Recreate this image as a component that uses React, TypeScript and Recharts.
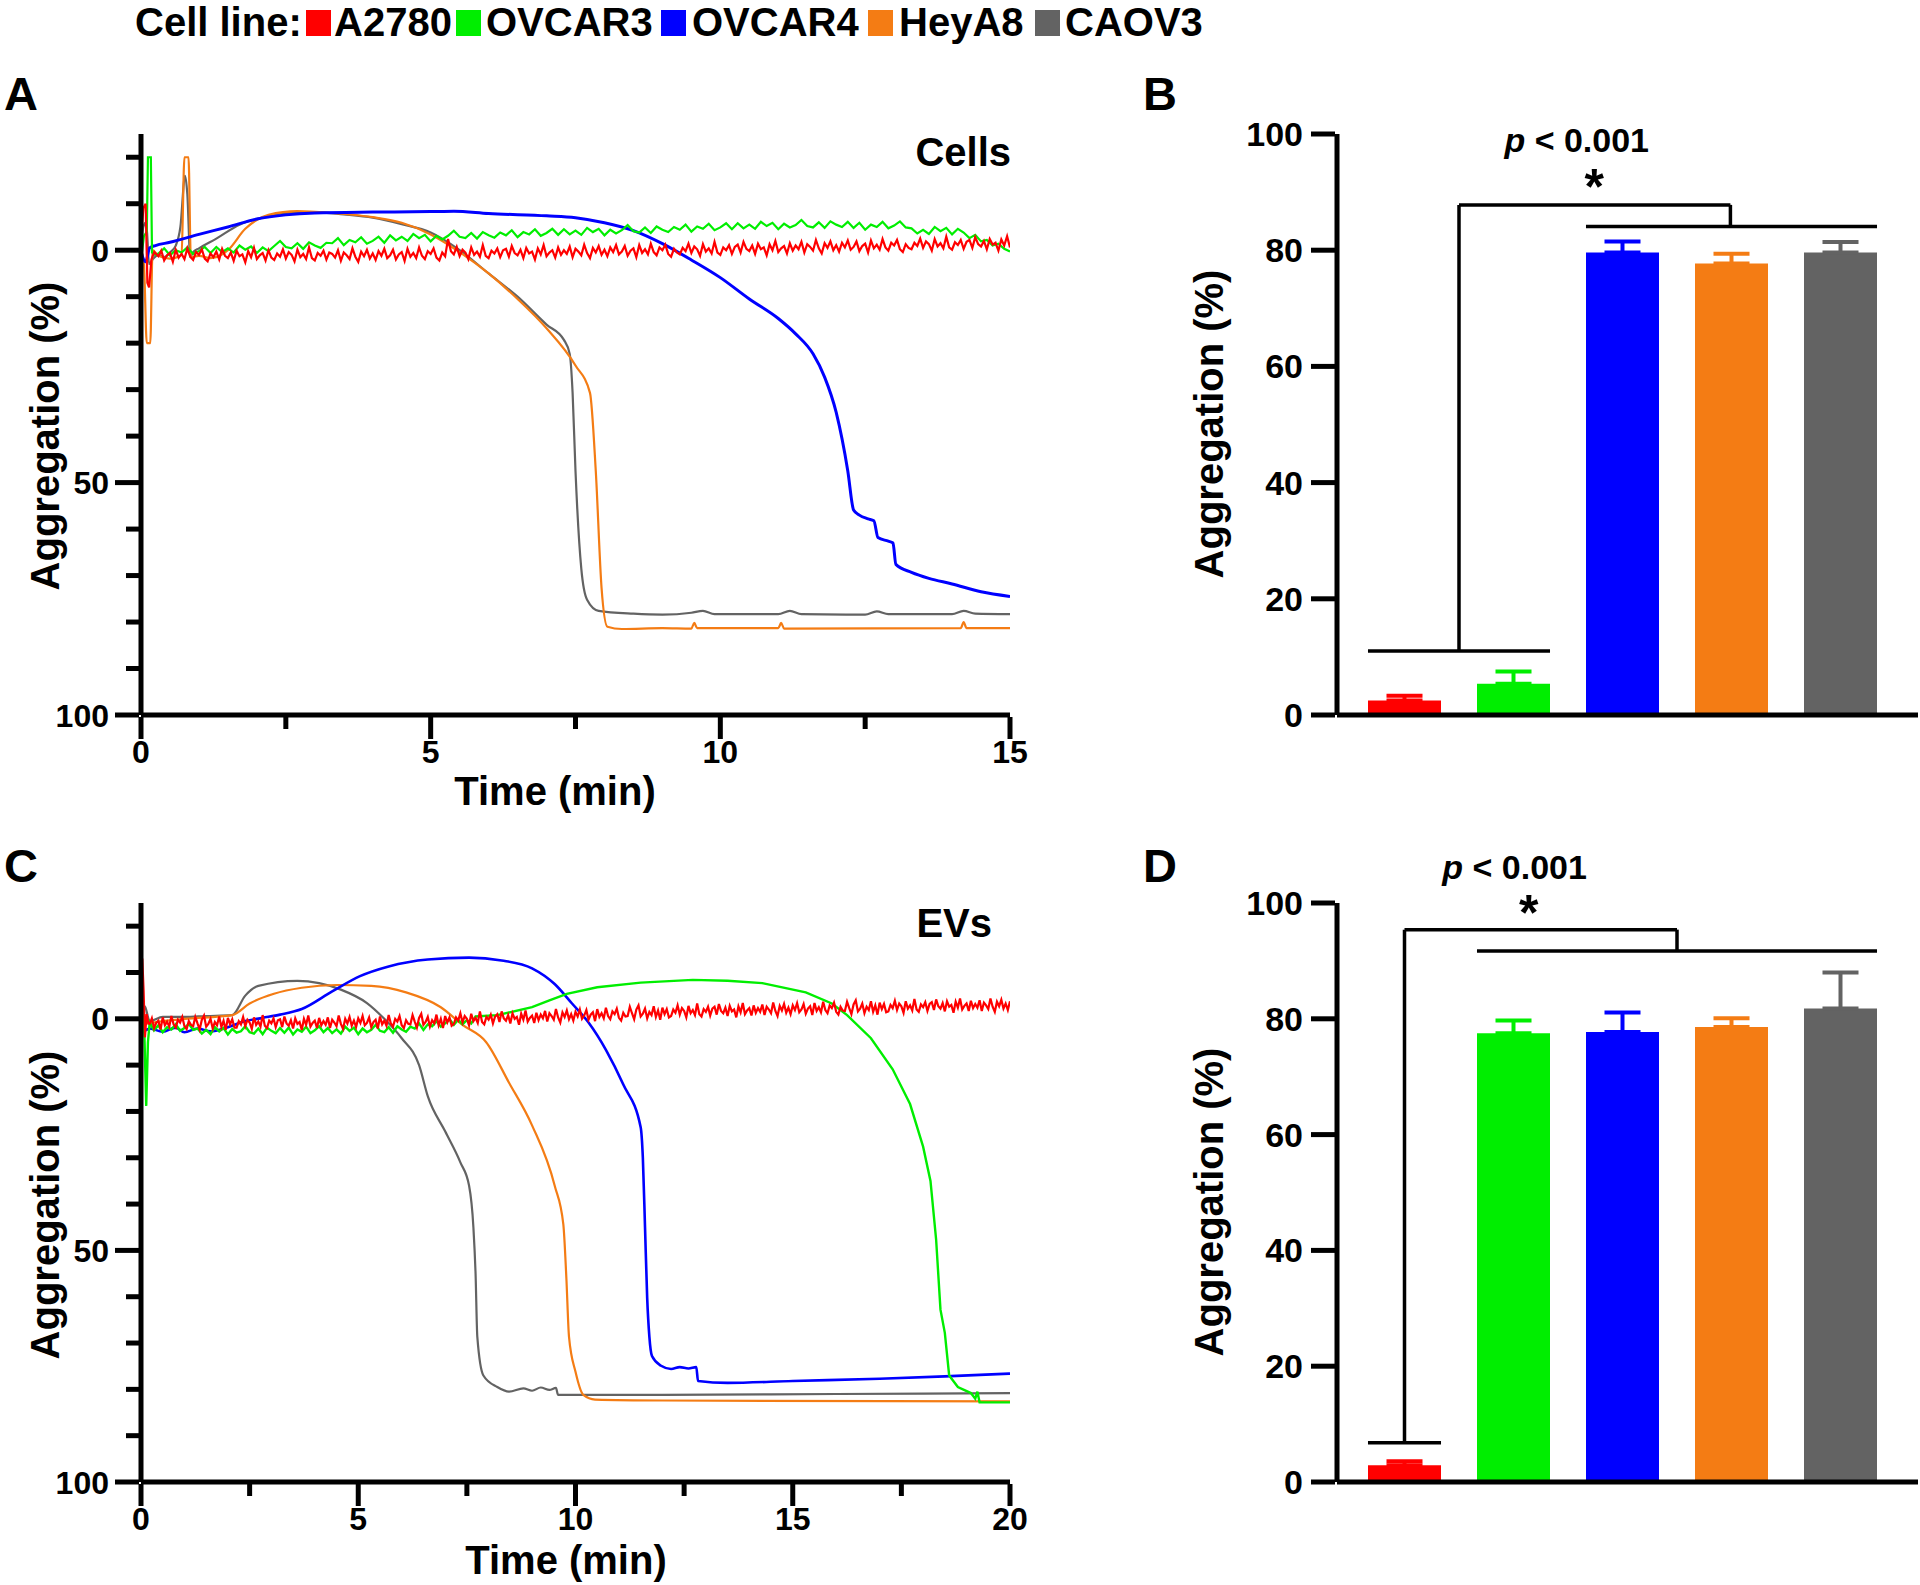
import React from "react";
import {
  LineChart,
  Line,
  BarChart,
  Bar,
  Cell,
  ErrorBar,
  XAxis,
  YAxis,
  ReferenceLine,
  ReferenceDot,
} from "recharts";

type Pt = [number, number];

const RED = "#ff0000";
const GREEN = "#00ee00";
const BLUE = "#0000ff";
const ORANGE = "#f47c14";
const GRAY = "#636363";
const FONT = '"Liberation Sans", Arial, Helvetica, sans-serif';

const cellLines = ["A2780", "OVCAR3", "OVCAR4", "HeyA8", "CAOV3"];
const lineColors = [RED, GREEN, BLUE, ORANGE, GRAY];

const timeTicksCells = [0, 2.5, 5, 7.5, 10, 12.5, 15];
const timeTicksEVs = [0, 2.5, 5, 7.5, 10, 12.5, 15, 17.5, 20];
const traceTicks = [-20, -10, 0, 10, 20, 30, 40, 50, 60, 70, 80, 90, 100];
const barTicks = [0, 20, 40, 60, 80, 100];

// ---- Panel A: cells, aggregation traces (time in min, aggregation in %) ----
// red trace is sampled evenly between 0.3 and 15 min
const cellsRedHead: Pt[] = [[0, -2], [0.04, -9], [0.08, -10], [0.11, 7], [0.14, 8], [0.18, 2], [0.23, 0.4]];
const cellsRed = [
  1.3, 0.1, 2.2, 1.1, 0.6, 2.5, -0.1, 1.6, 0.8, 1.9, -0.4, 1.4, 2.1, 0.4, 1.0, -0.2, 1.8, 2.4, 0.7, 1.5,
  0.3, 2.0, -0.3, 1.2, 1.7, 0.5, 2.3, 0.1, 1.3, 0.9, 2.6, 0.2, 1.5, -0.5, 1.9, 1.1, 0.6, 2.2, 0.0, 1.6,
  2.1, 0.7, 1.4, -0.2, 1.8, 0.4, 1.0, 2.4, -0.1, 1.5, 0.8, 1.9, -0.6, 1.7, 2.2, 0.6, 1.2, 0.1, 2.0, 0.5,
  0.8, 1.6, 0.0, 2.3, 0.5, 1.1, 1.9, -0.4, 1.4, 2.5, 0.3, 1.3, -0.1, 1.8, 0.7, 2.1, 0.2, 1.2, -0.3, 1.7,
  1.1, -0.1, 2.0, 0.9, 0.4, 2.3, -0.3, 1.4, 0.6, 1.7, -0.6, 1.2, 1.9, 0.2, 0.8, -0.4, 1.6, 2.2, 0.5, 1.3,
  -2.4, 0.2, 0.9, -0.7, 1.3, -0.1, 0.5, 1.9, -0.6, 1.0, 0.3, 1.4, -1.1, 1.2, 1.7, 0.1, 0.7, -0.4, 1.5, 0.0,
  -0.3, 1.4, -0.9, 0.6, 1.1, -0.1, 1.7, -0.5, 0.7, 0.3, 2.0, -0.4, 0.9, -1.1, 1.3, 0.5, 0.0, 1.6, -0.6, 1.0,
  0.0, 0.8, -0.8, 1.5, -0.3, 0.3, 1.1, -1.2, 0.6, 1.7, -0.5, 0.5, -0.9, 1.0, -0.1, 1.3, -0.6, 0.4, -1.1, 0.9,
  0.3, -0.9, 1.2, 0.1, -0.4, 1.5, -1.1, 0.6, -0.2, 0.9, -1.4, 0.4, 1.1, -0.6, 0.0, -1.2, 0.8, 1.4, -0.3, 0.5,
  0.9, -0.5, 0.2, -1.4, 0.6, -0.8, -0.2, 1.2, -1.3, 0.3, -0.4, 0.7, -1.8, 0.5, 1.0, -0.6, 0.0, -1.1, 0.8, -0.7,
  -1.2, 0.5, -1.8, -0.3, 0.2, -1.0, 0.8, -1.4, -0.2, -0.6, 1.1, -1.3, 0.0, -2.0, 0.4, -0.4, -0.9, 0.7, -1.5, 0.1,
  -1.0, -0.2, -1.8, 0.5, -1.3, -0.7, 0.1, -2.2, -0.4, 0.7, -1.5, -0.5, -1.9, 0.0, -1.1, 0.3, -1.6, -0.6, -2.1, -0.1,
  -0.7, -1.9, 0.2, -0.9, -1.4, 0.5, -2.1, -0.4, -1.2, -0.1, -2.4, -0.6, 0.1, -1.6, -1.0, -2.2, -0.2, 0.4, -1.3, -0.5,
  -0.2, -1.6, -0.9, -2.5, -0.5, -1.9, -1.3, 0.1, -2.4, -0.8, -1.5, -0.4, -2.9, -0.6, -0.1, -1.7, -1.1, -2.2, -0.3, -1.8,
  -2.2, -0.5, -2.8, -1.3, -0.8, -2.0, -0.2, -2.4, -1.2, -1.6, 0.1, -2.3, -1.0, -3.0, -0.6,
];
// green trace sampled evenly between 0.3 and 14.9 min
const cellsGreenHead: Pt[] = [[0, 2], [0.05, -3], [0.1, -4], [0.12, -20], [0.17, -20], [0.19, 0.5], [0.24, 1.0]];
const cellsGreen = [
  0.7, -0.4, 1.1, 0.0, 0.5, -0.6, 0.8, 0.2, -0.7, 0.6,
  -0.7, 0.4, -0.4, 0.5, -1.0, -0.1, -0.8, 0.6, -0.6, 0.2,
  -0.9, -2.0, -0.7, -0.4, -1.5, -0.3, -1.7, -1.0, -0.5, -1.6,
  -1.5, -2.6, -1.1, -2.2, -1.7, -2.8, -1.4, -2.0, -2.9, -1.6,
  -3.2, -2.1, -2.9, -2.0, -3.5, -2.6, -3.3, -1.9, -3.1, -2.3,
  -3.1, -4.2, -2.9, -2.6, -3.7, -2.5, -3.9, -3.2, -2.7, -3.8,
  -3.2, -4.3, -2.8, -3.9, -3.4, -4.5, -3.1, -3.7, -4.6, -3.3,
  -4.5, -3.4, -4.2, -3.3, -4.8, -3.9, -4.6, -3.2, -4.4, -3.6,
  -4.3, -5.4, -4.1, -3.8, -4.9, -3.7, -5.1, -4.4, -3.9, -5.0,
  -4.4, -5.5, -4.0, -5.1, -4.6, -5.7, -4.3, -4.9, -5.8, -4.5,
  -5.8, -4.7, -5.5, -4.6, -6.1, -5.2, -5.9, -4.5, -5.7, -4.9,
  -5.4, -6.5, -5.2, -4.9, -6.0, -4.8, -6.2, -5.5, -5.0, -6.1,
  -4.8, -5.9, -4.4, -5.5, -5.0, -6.1, -4.7, -5.3, -6.2, -4.9,
  -4.7, -3.6, -4.4, -3.5, -5.0, -4.1, -4.8, -3.4, -4.6, -3.8,
  -2.6, -3.3, -1.9, -2.2, -1.0, -1.4, -0.3,
];
const cellsGreenTail: Pt[] = [[15, 0.3]];
const cellsBlue: Pt[] = [
  [0, 0.4], [0.08, 2.5], [0.15, -0.5], [0.25, -1.0], [0.5, -1.7], [1, -3.4], [1.5, -5], [2, -6.7],
  [2.5, -7.6], [3, -8], [4, -8.2], [5, -8.3], [5.4, -8.4], [6, -7.9], [7, -7.4], [7.5, -7],
  [8, -5.9], [8.5, -4.2], [9, -1.4], [9.5, 2.1], [10, 5.9], [10.5, 10.5], [11, 14.7], [11.3, 18],
  [11.6, 22.3], [11.8, 27.3], [12, 34.9], [12.2, 47.5], [12.3, 55.9], [12.4, 57], [12.55, 57.8],
  [12.65, 58.2], [12.72, 61.8], [12.9, 62.6], [12.98, 63], [13.03, 67.6], [13.3, 69.3], [13.6, 70.6],
  [14, 71.8], [14.5, 73.5], [15, 74.5],
];
const cellsOrange: Pt[] = [
  [0, 0], [0.05, 3], [0.1, 20], [0.16, 20], [0.2, 0], [0.3, 1.2], [0.5, 1.8], [0.7, 1.0],
  [0.75, -20], [0.82, -20], [0.86, 1.5], [1.0, 1.2], [1.2, 1.7], [1.5, 0], [1.8, -4.6], [2.2, -7.6],
  [2.7, -8.4], [3.3, -8], [4, -7.1], [4.5, -5.9], [5, -3.4], [5.5, 0.4], [6, 5], [6.5, 10.5],
  [7, 16.8], [7.5, 24.8], [7.75, 30.7], [7.85, 47.5], [7.95, 72.7], [8.05, 81], [8.3, 81.5],
  [9, 81.3], [9.5, 81.4], [9.55, 80.2], [9.6, 81.3], [11, 81.3], [11.05, 80.2], [11.1, 81.4],
  [14.15, 81.3], [14.2, 80.0], [14.25, 81.3], [15, 81.3],
];
const cellsGray: Pt[] = [
  [0, 0], [0.04, -5], [0.09, -6], [0.14, 3], [0.2, 2], [0.3, 1], [0.4, 1.5], [0.5, 0.5], [0.6, -1],
  [0.68, -5], [0.76, -16], [0.8, -12], [0.85, 1.5], [0.9, 0.4], [1, -0.4], [1.3, -2.5], [1.7, -5.5],
  [2, -6.7], [2.5, -8], [3, -8.2], [3.5, -7.7], [4, -7], [4.5, -5.6], [5, -3.8], [5.5, 0], [6, 5],
  [6.5, 10], [7, 16], [7.3, 19.3], [7.4, 22.3], [7.45, 30.7], [7.5, 47.5], [7.6, 68.5], [7.7, 75.2],
  [7.9, 77.6], [8.5, 78.2], [9, 78.4], [9.5, 78.0], [9.7, 77.6], [9.9, 78.3], [11, 78.3], [11.2, 77.6],
  [11.4, 78.3], [12.5, 78.4], [12.7, 77.7], [12.9, 78.3], [14, 78.3], [14.2, 77.6], [14.4, 78.2], [15, 78.3],
];

// ---- Panel C: EVs ----
// red trace sampled evenly between 0.2 and 20 min
const evRedHead: Pt[] = [[0, 0], [0.03, -13], [0.06, -6], [0.09, 4], [0.13, -1], [0.17, 1]];
const evRed = [
  1.1, -0.1, 2.0, 0.9, 0.4, 2.3, -0.3, 1.4, 0.6, 1.7, -0.6, 1.2, 1.9, 0.2, 0.8, -0.4, 1.6, 2.2, 0.5, 1.3,
  1.6, -0.4, 1.0, 2.3, 0.2, -0.7, 1.7, 1.1, 0.0, 2.1, 0.7, 1.4, -0.5, 1.8, 0.4, 2.4, -0.2, 1.2, 0.1, 1.9,
  1.9, 0.5, 1.2, -0.4, 1.6, 0.2, 0.8, 2.2, -0.3, 1.3, 0.6, 1.7, -0.8, 1.5, 2.0, 0.4, 1.0, -0.1, 1.8, 0.3,
  0.1, 1.8, -0.5, 1.0, 1.5, 0.3, 2.1, -0.1, 1.1, 0.7, 2.4, 0.0, 1.3, -0.7, 1.7, 0.9, 0.4, 2.0, -0.2, 1.4,
  0.5, 1.3, -0.3, 2.0, 0.2, 0.8, 1.6, -0.7, 1.1, 2.2, 0.0, 1.0, -0.4, 1.5, 0.4, 1.8, -0.1, 0.9, -0.6, 1.4,
  0.9, -0.3, 1.8, 0.7, 0.2, 2.1, -0.5, 1.2, 0.4, 1.5, -0.8, 1.0, 1.7, 0.0, 0.6, -0.6, 1.4, 2.0, 0.3, 1.1,
  1.2, -0.8, 0.6, 1.9, -0.2, -1.1, 1.3, 0.7, -0.4, 1.7, 0.3, 1.0, -0.9, 1.4, 0.0, 2.0, -0.6, 0.8, -0.3, 1.5,
  1.1, -0.3, 0.4, -1.2, 0.8, -0.6, 0.0, 1.4, -1.1, 0.5, -0.2, 0.9, -1.6, 0.7, 1.2, -0.4, 0.2, -0.9, 1.0, -0.5,
  -1.0, 0.7, -1.6, -0.1, 0.4, -0.8, 1.0, -1.2, 0.0, -0.4, 1.3, -1.1, 0.2, -1.8, 0.6, -0.2, -0.7, 0.9, -1.3, 0.3,
  -0.9, -0.1, -1.7, 0.6, -1.2, -0.6, 0.2, -2.1, -0.3, 0.8, -1.4, -0.4, -1.8, 0.1, -1.0, 0.4, -1.5, -0.5, -2.0, 0.0,
  -0.7, -1.9, 0.2, -0.9, -1.4, 0.5, -2.1, -0.4, -1.2, -0.1, -2.4, -0.6, 0.1, -1.6, -1.0, -2.2, -0.2, 0.4, -1.3, -0.5,
  -0.6, -2.6, -1.2, 0.1, -2.0, -2.9, -0.5, -1.1, -2.2, -0.1, -1.5, -0.8, -2.7, -0.4, -1.8, 0.2, -2.4, -1.0, -2.1, -0.3,
  -0.6, -2.0, -1.3, -2.9, -0.9, -2.3, -1.7, -0.3, -2.8, -1.2, -1.9, -0.8, -3.3, -1.0, -0.5, -2.1, -1.5, -2.6, -0.7, -2.2,
  -2.6, -0.9, -3.2, -1.7, -1.2, -2.4, -0.6, -2.8, -1.6, -2.0, -0.3, -2.7, -1.4, -3.4, -1.0, -1.8, -2.3, -0.7, -2.9, -1.3,
  -2.3, -1.5, -3.1, -0.8, -2.6, -2.0, -1.2, -3.5, -1.7, -0.6, -2.8, -1.8, -3.2, -1.3, -2.4, -1.0, -2.9, -1.9, -3.4, -1.4,
  -2.0, -3.2, -1.1, -2.2, -2.7, -0.8, -3.4, -1.7, -2.5, -1.4, -3.7, -1.9, -1.2, -2.9, -2.3, -3.5, -1.5, -0.9, -2.6, -1.8,
  -1.7, -3.7, -2.3, -1.0, -3.1, -4.0, -1.6, -2.2, -3.3, -1.2, -2.6, -1.9, -3.8, -1.5, -2.9, -0.9, -3.5, -2.1, -3.2, -1.4,
  -1.6, -3.0, -2.3, -3.9, -1.9, -3.3, -2.7, -1.3, -3.8, -2.2, -2.9, -1.8, -4.3, -2.0, -1.5, -3.1, -2.5, -3.6, -1.7, -3.2,
  -3.6, -1.9, -4.2, -2.7, -2.2, -3.4, -1.6, -3.8, -2.6, -3.0, -1.3, -3.7, -2.4, -4.4, -2.0, -2.8, -3.3, -1.7, -3.9, -2.3,
  -3.2, -2.4, -4.0, -1.7, -3.5, -2.9, -2.1, -4.4, -2.6, -1.5, -3.7, -2.7, -4.1, -2.2, -3.3, -1.9, -3.8,
];
// green trace: noisy part sampled evenly between 0.3 and 7.7 min, then smooth
const evGreenHead: Pt[] = [[0, 0], [0.05, -2], [0.08, 4], [0.12, 18.8], [0.16, 5], [0.2, 0.8]];
const evGreen = [
  2.5, 1.4, 2.9, 1.8, 2.3, 1.2, 2.6, 2.0, 1.1, 2.4,
  2.1, 3.2, 2.4, 3.3, 1.8, 2.7, 2.0, 3.4, 2.2, 3.0,
  2.7, 1.6, 2.9, 3.2, 2.1, 3.3, 1.9, 2.6, 3.1, 2.0,
  3.0, 1.9, 3.4, 2.3, 2.8, 1.7, 3.1, 2.5, 1.6, 2.9,
  2.0, 3.1, 2.3, 3.2, 1.7, 2.6, 1.9, 3.3, 2.1, 2.9,
  2.4, 1.3, 2.6, 2.9, 1.8, 3.0, 1.6, 2.3, 2.8, 1.7,
  2.1, 1.0, 2.4, 1.2, 1.6, 0.5, 1.7, 1.0, 0.1, 1.3,
  0.2, 1.2, 0.3, 1.0, -0.5,
];
const evGreenTail: Pt[] = [
  [8.2, -0.8], [9, -2.5], [9.4, -4], [9.8, -5.4], [10.5, -6.8], [11.5, -7.8], [12.7, -8.4],
  [13.5, -8.2], [14.3, -7.7], [15.3, -5.7], [15.9, -3.3], [16.25, -0.8], [16.8, 4.2], [17.3, 10.9],
  [17.7, 18.4], [18, 27.6], [18.17, 35], [18.3, 47.7], [18.4, 62.8], [18.5, 67.8], [18.6, 77],
  [18.8, 79.5], [19.1, 80.8], [19.2, 82], [19.25, 80.5], [19.3, 82.8], [20, 82.8],
];
const evBlue: Pt[] = [
  [0, 0], [0.04, -2], [0.1, 2.5], [0.2, 2.1], [0.5, 2.8], [0.8, 1.9], [1, 2.9], [1.3, 2.1], [1.6, 2.7],
  [2, 1.8], [2.4, 0.5], [2.8, -0.2], [3.2, -0.9], [3.7, -2.1], [4.4, -5.9], [5.04, -9.2], [5.7, -11.3],
  [6.6, -12.8], [7.55, -13.2], [8.3, -12.6], [9.0, -10.9], [9.52, -7.5], [9.92, -3.3], [10.3, 0.8],
  [10.7, 6.7], [11.1, 14.2], [11.5, 23.4], [11.55, 30], [11.6, 45], [11.65, 60.3], [11.7, 68.6],
  [11.76, 72.8], [11.97, 74.9], [12.2, 75.6], [12.4, 75.2], [12.6, 75.5], [12.78, 75.2], [12.82, 78.2],
  [13.5, 78.6], [15, 78.2], [17, 77.7], [18.5, 77.2], [20, 76.6],
];
const evOrange: Pt[] = [
  [0, 0], [0.05, -1], [0.1, 1], [0.5, 0.5], [1, 0], [2.1, -0.8], [2.5, -3.3], [3.06, -5.4], [3.7, -6.7],
  [4.5, -7.3], [5.3, -7.1], [6.1, -5.7], [6.9, -2.5], [7.4, 1.3], [7.94, 5], [8.47, 13.8], [9, 23],
  [9.52, 36], [9.72, 44.4], [9.79, 56], [9.85, 68.6], [10, 76.2], [10.18, 81.2], [10.45, 82.2],
  [12, 82.4], [20, 82.6],
];
const evGray: Pt[] = [
  [0, 0], [0.04, -3], [0.1, -2.5], [0.2, 0.5], [0.5, -0.4], [1, -0.4], [1.5, -0.6], [2.1, -0.8],
  [2.4, -5], [2.7, -7.1], [3.6, -8.2], [4.1, -7.7], [4.6, -6.3], [5.2, -3.4], [5.6, 0], [6.0, 4.2],
  [6.4, 10], [6.6, 16.7], [7.0, 24.3], [7.35, 31], [7.55, 36], [7.65, 45], [7.7, 55], [7.74, 68.6],
  [7.88, 77], [8.2, 79.5], [8.47, 80.5], [8.8, 79.8], [9.0, 80.3], [9.2, 79.6], [9.4, 80.1],
  [9.55, 79.7], [9.6, 81.2], [12, 81.2], [16, 81.0], [20, 80.8],
];

// ---- Panels B and D: mean aggregation with SEM ----
const cellsMean = [2.5, 5.4, 79.6, 77.7, 79.6];
const cellsSem = [0.8, 2.1, 1.9, 1.7, 1.8];
const evMean = [2.9, 77.5, 77.7, 78.6, 81.8];
const evSem = [0.7, 2.2, 3.4, 1.5, 6.2];

// significance brackets: [x1, y1, x2, y2] in (bar slot, %) units
const cellsBrackets = [
  [0.165, 11, 1.835, 11],
  [1.0, 11, 1.0, 87.8],
  [1.0, 87.8, 3.49, 87.8],
  [3.49, 87.8, 3.49, 84.1],
  [2.165, 84.1, 4.835, 84.1],
];
const evBrackets = [
  [0.165, 6.8, 0.835, 6.8],
  [0.5, 6.8, 0.5, 95.4],
  [0.5, 95.4, 3.0, 95.4],
  [3.0, 95.4, 3.0, 91.7],
  [1.165, 91.7, 4.835, 91.7],
];
const cellsNote = { p: [2.08, 99], star: [2.24, 93] };
const evNote = { p: [1.51, 106.3], star: [1.64, 100.4] };

const toRows = (pts: Pt[]) => pts.map(([t, v]) => ({ t, v }));
const sampled = (head: Pt[], from: number, to: number, vals: number[], tail: Pt[] = []) => {
  const step = (to - from) / (vals.length - 1);
  return [
    ...toRows(head),
    ...vals.map((v, i) => ({ t: +(from + i * step).toFixed(3), v })),
    ...toRows(tail),
  ];
};

const cellsSeries = [
  { key: "gray", data: toRows(cellsGray), color: GRAY, w: 2.2, type: "monotoneX" },
  { key: "orange", data: toRows(cellsOrange), color: ORANGE, w: 2.2, type: "monotoneX" },
  { key: "blue", data: toRows(cellsBlue), color: BLUE, w: 3, type: "monotoneX" },
  { key: "green", data: sampled(cellsGreenHead, 0.3, 14.9, cellsGreen, cellsGreenTail), color: GREEN, w: 2.2, type: "linear" },
  { key: "red", data: sampled(cellsRedHead, 0.3, 15, cellsRed), color: RED, w: 2.2, type: "linear" },
];
const evSeries = [
  { key: "gray", data: toRows(evGray), color: GRAY, w: 2.2, type: "monotoneX" },
  { key: "orange", data: toRows(evOrange), color: ORANGE, w: 2.2, type: "monotoneX" },
  { key: "blue", data: toRows(evBlue), color: BLUE, w: 2.6, type: "monotoneX" },
  { key: "green", data: sampled(evGreenHead, 0.3, 7.7, evGreen, evGreenTail), color: GREEN, w: 2.4, type: "linear" },
  { key: "red", data: sampled(evRedHead, 0.2, 20, evRed), color: RED, w: 2.2, type: "linear" },
];

const axisLine = { stroke: "#000", strokeWidth: 5 };

const renderAggTick = (p: any) => {
  const major = p.payload.value % 50 === 0;
  const len = major ? 24 : 13;
  return (
    <g>
      <line x1={p.x - len} y1={p.y} x2={p.x} y2={p.y} stroke="#000" strokeWidth={5} />
      {major && (
        <text x={p.x - 30} y={p.y + 11.5} textAnchor="end" fontSize={32} fontWeight="bold" fill="#000">
          {p.payload.value}
        </text>
      )}
    </g>
  );
};

const renderTimeTick = (p: any) => {
  const major = p.payload.value % 5 === 0;
  const len = major ? 22 : 12;
  return (
    <g>
      <line x1={p.x} y1={p.y} x2={p.x} y2={p.y + len} stroke="#000" strokeWidth={5} />
      {major && (
        <text x={p.x} y={p.y + 46} textAnchor="middle" fontSize={32} fontWeight="bold" fill="#000">
          {p.payload.value}
        </text>
      )}
    </g>
  );
};

const renderPctTick = (p: any) => (
  <g>
    <line x1={p.x - 24} y1={p.y} x2={p.x} y2={p.y} stroke="#000" strokeWidth={5} />
    <text x={p.x - 32} y={p.y + 12} textAnchor="end" fontSize={34} fontWeight="bold" fill="#000">
      {p.payload.value}
    </text>
  </g>
);

const pLabel = (props: any) => {
  const vb = props.viewBox;
  return (
    <text x={vb.x + (vb.width || 0) / 2} y={vb.y + 12} textAnchor="middle" fontSize={34} fontWeight="bold" fill="#000">
      <tspan fontStyle="italic">p</tspan>
      {" < 0.001"}
    </text>
  );
};

const starLabel = (props: any) => {
  const vb = props.viewBox;
  return (
    <text x={vb.x + (vb.width || 0) / 2} y={vb.y + 29} textAnchor="middle" fontSize={50} fontWeight="bold" fill="#000">
      *
    </text>
  );
};

function TracePanel(props: {
  top: number;
  height: number;
  marginTop: number;
  marginBottom: number;
  xMax: number;
  xTicks: number[];
  series: typeof cellsSeries;
}) {
  const { top, height, marginTop, marginBottom, xMax, xTicks, series } = props;
  return (
    <div style={{ position: "absolute", left: 0, top }}>
      <LineChart width={1040} height={height} margin={{ top: marginTop, right: 30, bottom: marginBottom, left: 0 }}>
        <XAxis
          type="number"
          dataKey="t"
          domain={[0, xMax]}
          ticks={xTicks}
          interval={0}
          allowDataOverflow
          tickSize={0}
          tickLine={false}
          axisLine={axisLine}
          height={70}
          tick={renderTimeTick}
        />
        <YAxis
          type="number"
          dataKey="v"
          domain={[-25, 100]}
          reversed
          ticks={traceTicks}
          interval={0}
          allowDataOverflow
          tickSize={0}
          tickLine={false}
          axisLine={axisLine}
          width={141}
          tick={renderAggTick}
        />
        {series.map((s) => (
          <Line
            key={s.key}
            data={s.data}
            dataKey="v"
            type={s.type as any}
            stroke={s.color}
            strokeWidth={s.w}
            dot={false}
            activeDot={false}
            isAnimationActive={false}
          />
        ))}
      </LineChart>
    </div>
  );
}

function BarPanel(props: {
  top: number;
  height: number;
  marginTop: number;
  marginBottom: number;
  means: number[];
  sems: number[];
  brackets: number[][];
  note: { p: number[]; star: number[] };
}) {
  const { top, height, marginTop, marginBottom, means, sems, brackets, note } = props;
  const rows = cellLines.map((name, i) => ({ name, slot: i + 0.5, value: means[i], [`e${i}`]: [0, sems[i]] }));
  const pad = { left: 13, right: 23 };
  return (
    <div style={{ position: "absolute", left: 1150, top }}>
      <BarChart width={770} height={height} data={rows} margin={{ top: marginTop, right: 2, bottom: marginBottom, left: 0 }}>
        <XAxis dataKey="name" tick={false} tickLine={false} axisLine={axisLine} height={10} padding={pad} />
        <XAxis xAxisId="n" type="number" dataKey="slot" domain={[0, 5]} hide padding={pad} allowDataOverflow />
        <YAxis
          type="number"
          domain={[0, 100]}
          ticks={barTicks}
          interval={0}
          tickSize={0}
          tickLine={false}
          axisLine={axisLine}
          width={187}
          tick={renderPctTick}
        />
        <Bar dataKey="value" barSize={73} isAnimationActive={false}>
          {rows.map((r, i) => (
            <Cell key={r.name} fill={lineColors[i]} />
          ))}
          {cellLines.map((n, i) => (
            <ErrorBar
              key={n}
              dataKey={`e${i}`}
              direction="y"
              width={18}
              strokeWidth={4}
              stroke={lineColors[i]}
              isAnimationActive={false}
            />
          ))}
        </Bar>
        {brackets.map((b, i) => (
          <ReferenceLine
            key={i}
            xAxisId="n"
            segment={[{ x: b[0], y: b[1] }, { x: b[2], y: b[3] }]}
            stroke="#000"
            strokeWidth={3.5}
            ifOverflow="visible"
          />
        ))}
        <ReferenceDot xAxisId="n" x={note.p[0]} y={note.p[1]} r={0} fill="none" stroke="none" ifOverflow="visible" label={pLabel} />
        <ReferenceDot xAxisId="n" x={note.star[0]} y={note.star[1]} r={0} fill="none" stroke="none" ifOverflow="visible" label={starLabel} />
      </BarChart>
    </div>
  );
}

const legendItems = [
  { name: "A2780", sq: 306, tx: 334 },
  { name: "OVCAR3", sq: 456, tx: 486 },
  { name: "OVCAR4", sq: 661, tx: 692 },
  { name: "HeyA8", sq: 868, tx: 899 },
  { name: "CAOV3", sq: 1035, tx: 1065 },
];

export default function App() {
  return (
    <div
      style={{
        position: "absolute",
        left: 0,
        top: 0,
        width: 1920,
        height: 1585,
        background: "#fff",
        fontFamily: FONT,
        fontWeight: "bold",
      }}
    >
      <TracePanel top={100} height={740} marginTop={34} marginBottom={55} xMax={15} xTicks={timeTicksCells} series={cellsSeries} />
      <TracePanel top={870} height={740} marginTop={33} marginBottom={58} xMax={20} xTicks={timeTicksEVs} series={evSeries} />
      <BarPanel top={60} height={740} marginTop={74} marginBottom={75} means={cellsMean} sems={cellsSem} brackets={cellsBrackets} note={cellsNote} />
      <BarPanel top={800} height={770} marginTop={103} marginBottom={78} means={evMean} sems={evSem} brackets={evBrackets} note={evNote} />

      <svg
        width={1920}
        height={1585}
        style={{ position: "absolute", left: 0, top: 0, pointerEvents: "none" }}
        fontFamily={FONT}
        fontWeight="bold"
        fill="#000"
      >
        <text x={135} y={36} fontSize={40}>Cell line:</text>
        {legendItems.map((it, i) => (
          <g key={it.name}>
            <rect x={it.sq} y={10} width={25} height={26} fill={lineColors[i]} />
            <text x={it.tx} y={36} fontSize={40}>{it.name}</text>
          </g>
        ))}

        <text x={4} y={110} fontSize={47}>A</text>
        <text x={1143} y={110} fontSize={47}>B</text>
        <text x={4} y={882} fontSize={47}>C</text>
        <text x={1143} y={882} fontSize={47}>D</text>

        <text x={1011} y={166} fontSize={40} textAnchor="end">Cells</text>
        <text x={992} y={937} fontSize={40} textAnchor="end">EVs</text>

        <text x={59} y={436} fontSize={40} textAnchor="middle" transform="rotate(-90 59 436)">Aggregation (%)</text>
        <text x={59} y={1205} fontSize={40} textAnchor="middle" transform="rotate(-90 59 1205)">Aggregation (%)</text>
        <text x={1223} y={424} fontSize={40} textAnchor="middle" transform="rotate(-90 1223 424)">Aggregation (%)</text>
        <text x={1223} y={1202} fontSize={40} textAnchor="middle" transform="rotate(-90 1223 1202)">Aggregation (%)</text>

        <text x={555} y={805} fontSize={40} textAnchor="middle">Time (min)</text>
        <text x={566} y={1574} fontSize={40} textAnchor="middle">Time (min)</text>
      </svg>
    </div>
  );
}
